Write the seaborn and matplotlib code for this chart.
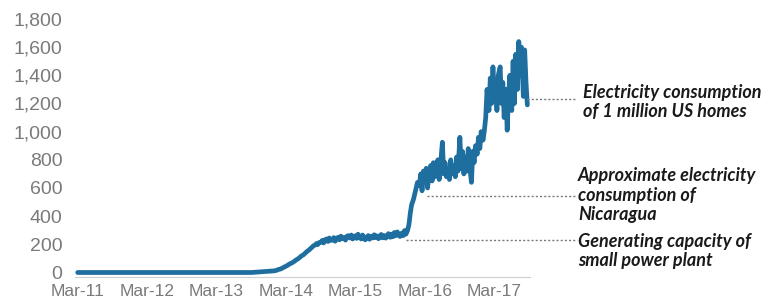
import seaborn as sns
import matplotlib.pyplot as plt
import pandas as pd

# flat part, monthly Mar-2011 .. Dec-2013
early_months = pd.date_range("2011-03-01", "2013-12-01", freq="MS")
early_values = [0] * 31 + [3, 6, 9]

# active part, four readings a month Jan-2014 .. Aug-2017
late_values = [
    12, 15, 18, 22,  25, 30, 35, 40,  45, 50, 56, 62,  68, 74, 80, 88,
    95, 102, 110, 118,  126, 135, 144, 152,  160, 170, 178, 188,  195, 205, 198, 212,
    215, 228, 210, 232,  238, 220, 245, 228,  230, 248, 222, 242,  250, 232, 258, 240,
    248, 230, 256, 262,  245, 266, 238, 256,  260, 242, 272, 250,  238, 266, 252, 232,
    250, 262, 236, 256,  245, 268, 248, 260,  240, 256, 270, 246,  262, 244, 258, 276,
    250, 272, 254, 284,  262, 288, 268, 256,  280, 262, 298, 272,  300, 340, 420, 480,
    520, 560, 600, 640,  620, 700, 580, 720,  640, 740, 600, 700,  760, 650, 780, 680,
    720, 800, 660, 760,  925, 700, 780, 680,  740, 660, 800, 700,  760, 680, 820, 720,
    960, 740, 860, 700,  820, 720, 880, 760,  640, 860, 780, 900,  840, 960, 880, 1000,
    940, 1010, 1100, 1300,  1150, 1380, 1200, 1460,  1250, 1350, 1150, 1400,  1460, 1200, 1350, 1100,
    1300, 1010, 1250, 1400,  1150, 1500, 1200, 1550,  1300, 1640, 1400, 1600,  1250, 1580, 1350, 1190,
]
late_days = [1, 8, 15, 22]

tick_labels = ["Mar-11", "Mar-12", "Mar-13", "Mar-14", "Mar-15", "Mar-16", "Mar-17"]
y_ticks = [0, 200, 400, 600, 800, 1000, 1200, 1400, 1600, 1800]

# reference levels: (value, start date, text)
references = [
    (1230, "2017-08-22", "Electricity consumption\nof 1 million US homes"),
    (545, "2016-03-10", "Approximate electricity\nconsumption of\nNicaragua"),
    (232, "2015-11-25", "Generating capacity of\nsmall power plant"),
]
text_pos_px = [(583, 102), (578, 195), (578, 251)]

late_dates = [pd.Timestamp(m.year, m.month, d)
              for m in pd.date_range("2014-01-01", "2017-08-01", freq="MS")
              for d in late_days]
df = pd.DataFrame({
    "date": list(early_months) + late_dates,
    "value": early_values + late_values,
})

sns.set_style("white")
plt.rcParams["font.family"] = ["Liberation Sans", "DejaVu Sans"]

W, H = 767, 303
fig = plt.figure(figsize=(W / 100, H / 100), dpi=100)
ax = fig.add_axes([75 / W, 1 - 277 / H, (530 - 75) / W, (277 - 19) / H])

sns.lineplot(data=df, x="date", y="value", ax=ax, color="#1f6ea0", linewidth=3.4)

ax.set_ylim(-32, 1800)
ax.set_xlim(pd.Timestamp("2011-02-15"), pd.Timestamp("2017-09-05"))
ax.set_yticks(y_ticks)
ax.set_yticklabels([f"{v:,}" for v in y_ticks], color="#7a7a7a", fontsize=14)
xt = pd.date_range("2011-03-01", periods=7, freq="12MS")
ax.set_xticks(xt)
ax.set_xticklabels(tick_labels, color="#7a7a7a", fontsize=12.5)
ax.set_xlabel("")
ax.set_ylabel("")

for side in ["top", "right", "left"]:
    ax.spines[side].set_visible(False)
ax.spines["bottom"].set_color("#d0d0d0")
ax.tick_params(axis="x", length=4, color="#d0d0d0", pad=1)
ax.tick_params(axis="y", length=0, pad=9)

for (val, start, text), (tx, ty) in zip(references, text_pos_px):
    ax.plot([pd.Timestamp(start), pd.Timestamp("2018-05-10")], [val, val],
            linestyle=(0, (1.5, 1.5)), color="#7a7a7a", linewidth=1, clip_on=False)
    fig.text(tx / W, 1 - ty / H, text, ha="left", va="center",
             fontsize=13, fontweight="bold", fontstyle="italic",
             family=["Lato", "DejaVu Sans"], color="#1a1a1a", linespacing=1.2)

fig.savefig("out.png", dpi=100)
